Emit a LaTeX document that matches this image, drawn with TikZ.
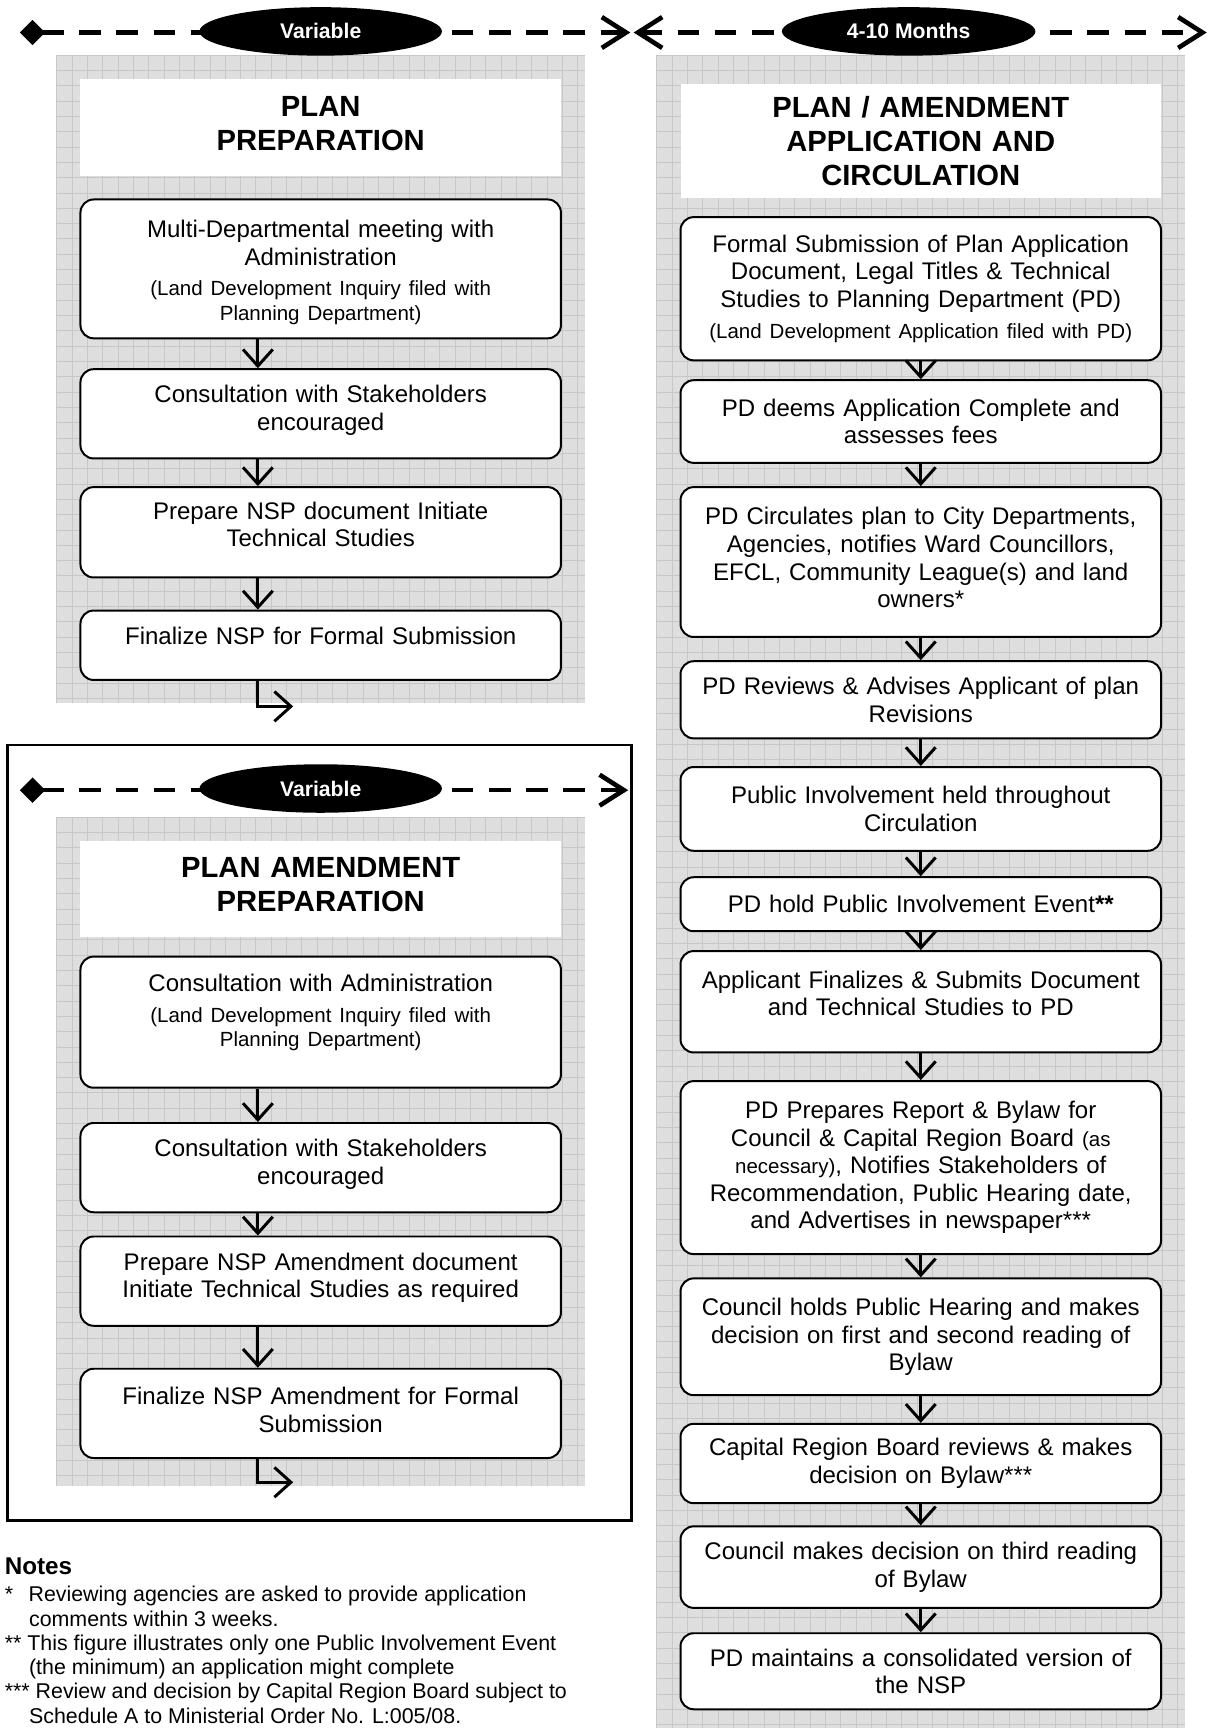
\documentclass[tikz,border=0pt]{standalone}
\usepackage{fontspec}
\setmainfont{Liberation Sans}
\usetikzlibrary{arrows.meta,shapes.geometric}

\newcommand{\lift}[1]{\par\vskip#1\kern0pt}
\newcommand{\aside}[1]{\par\vskip3pt{\fontsize{9.3}{11}\selectfont #1\par}}
\newcommand{\minor}[1]{{\fontsize{9.3}{12.5}\selectfont #1}}

\tikzset{
    panel/.style={fill=black!13},
    paper/.style={draw=black!22, line width=0.4pt, step=6.95pt},
    heading/.style={fill=white, minimum width=218pt, text width=210pt, align=center,
        font=\fontsize{13.25}{15.5}\selectfont\bfseries},
    stepbox/.style={draw, fill=white, rounded corners=6pt, line width=0.9pt,
        minimum width=218pt, text width=210pt, align=center,
        font=\fontsize{10.9}{12.5}\selectfont},
    flow/.style={line width=1.35pt, -{Straight Barb[length=7.5pt, width=13.5pt]}},
    timeline/.style={line width=2.1pt, dash pattern=on 9.8pt off 7.1pt},
    period/.style={ellipse, fill=black, text=white, inner sep=0pt,
        minimum height=22pt, font=\fontsize{9.6}{11}\selectfont\bfseries},
    notes/.style={align=left, inner sep=0pt, font=\fontsize{9.7}{11}\selectfont}
}

\begin{document}
\begin{tikzpicture}[x=0.5pt, y=-0.5pt]
    \useasboundingbox (0,0) rectangle (1097,1568);

    % grid panels
    \fill[panel] (51.5,50) rectangle (531,638);
    \begin{scope}[shift={(51.5,50)}]
        \draw[paper] (0,588) grid (479.5,0);
    \end{scope}
    \fill[panel] (51.5,741.5) rectangle (531,1348);
    \begin{scope}[shift={(51.5,741.5)}]
        \draw[paper] (0,606.5) grid (479.5,0);
    \end{scope}
    \fill[panel] (596,50) rectangle (1075,1568);
    \begin{scope}[shift={(596,50)}]
        \draw[paper] (0,1518) grid (479,0);
    \end{scope}

    % time lines
    \coordinate (ta) at (18,29.5);
    \coordinate (tb) at (572,29.5);
    \coordinate (tc) at (575,29.5);
    \coordinate (td) at (1095,29.5);
    \draw[timeline, {Diamond[length=11.5pt, width=11.5pt]}-{Straight Barb[length=11pt, width=14pt]}] (ta) -- (tb);
    \draw[timeline, {Straight Barb[length=11pt, width=14pt]}-{Straight Barb[length=11pt, width=14pt]}] (tc) -- (td);
    \node[period, minimum width=110pt] (var1) at (291,28.5) {Variable};
    \node[period, minimum width=115pt] (months) at (824.5,28.5) {4-10 Months};

    % plan preparation
    \node[heading, minimum height=44pt] (lt) at (291,116) {PLAN\\PREPARATION\lift{4pt}};
    \node[stepbox, minimum height=63pt] (lp1) at (291,244) {Multi-Departmental meeting with\\Administration\aside{(Land Development Inquiry filed with\\Planning Department)}\lift{-3pt}};
    \node[stepbox, minimum height=40.5pt] (lp2) at (291,375.5) {Consultation with Stakeholders\\encouraged\lift{3pt}};
    \node[stepbox, minimum height=41pt] (lp3) at (291,483) {Prepare NSP document Initiate\\Technical Studies\lift{7pt}};
    \node[stepbox, minimum height=31.5pt] (lp4) at (291,585.5) {Finalize NSP for Formal Submission\lift{8.5pt}};
    \coordinate (lcol) at (234,0);
    \coordinate (lout1) at (266,641);
    \draw[flow] (lp1.south -| lcol) -- (lp2.north -| lcol);
    \draw[flow] (lp2.south -| lcol) -- (lp3.north -| lcol);
    \draw[flow] (lp3.south -| lcol) -- (lp4.north -| lcol);
    \draw[flow] (lp4.south -| lcol) |- (lout1);

    % plan amendment preparation
    \draw[line width=1.35pt] (7,676) rectangle (573,1380);
    \coordinate (te) at (18,717);
    \coordinate (tf) at (570,717);
    \draw[timeline, {Diamond[length=11.5pt, width=11.5pt]}-{Straight Barb[length=11pt, width=14pt]}] (te) -- (tf);
    \node[period, minimum width=110pt] (var2) at (291,715.5) {Variable};
    \node[heading, minimum height=43.5pt] (at) at (291,806.5) {PLAN AMENDMENT\\PREPARATION\lift{3.5pt}};
    \node[stepbox, minimum height=59.5pt] (la1) at (291,927.5) {Consultation with Administration\aside{(Land Development Inquiry filed with\\Planning Department)}\lift{8.5pt}};
    \node[stepbox, minimum height=40.5pt] (la2) at (291,1059.5) {Consultation with Stakeholders\\encouraged\lift{3pt}};
    \node[stepbox, minimum height=40.5pt] (la3) at (291,1162.5) {Prepare NSP Amendment document\\Initiate Technical Studies as required\lift{3pt}};
    \node[stepbox, minimum height=40.5pt] (la4) at (291,1282.5) {Finalize NSP Amendment for Formal\\Submission\lift{3pt}};
    \coordinate (lout2) at (266,1345);
    \draw[flow] (la1.south -| lcol) -- (la2.north -| lcol);
    \draw[flow] (la2.south -| lcol) -- (la3.north -| lcol);
    \draw[flow] (la3.south -| lcol) -- (la4.north -| lcol);
    \draw[flow] (la4.south -| lcol) |- (lout2);

    % application and circulation
    \node[heading, minimum height=52pt] (rt) at (835.5,128) {PLAN / AMENDMENT\\APPLICATION AND\\CIRCULATION};
    \node[stepbox, minimum height=65pt] (r1) at (835.5,262) {Formal Submission of Plan Application\\Document, Legal Titles \& Technical\\Studies to Planning Department (PD)\aside{(Land Development Application filed with PD)}};
    \node[stepbox, minimum height=37.5pt] (r2) at (835.5,382.5) {PD deems Application Complete and\\assesses fees};
    \node[stepbox, minimum height=68pt] (r3) at (835.5,510) {PD Circulates plan to City Departments,\\Agencies, notifies Ward Councillors,\\EFCL, Community League(s) and land\\owners*\lift{4pt}};
    \node[stepbox, minimum height=35pt] (r4) at (835.5,635) {PD Reviews \& Advises Applicant of plan\\Revisions};
    \node[stepbox, minimum height=38pt] (r5) at (835.5,734) {Public Involvement held throughout\\Circulation};
    \node[stepbox, minimum height=24.5pt] (r6) at (835.5,820.5) {PD hold Public Involvement Event\textbf{**}};
    \node[stepbox, minimum height=46pt] (r7) at (835.5,909) {Applicant Finalizes \& Submits Document\\and Technical Studies to PD\lift{7.5pt}};
    \node[stepbox, minimum height=78.5pt] (r8) at (835.5,1059.5) {PD Prepares Report \& Bylaw for\\Council \& Capital Region Board \minor{(as}\\\minor{necessary)}, Notifies Stakeholders of\\Recommendation, Public Hearing date,\\and Advertises in newspaper***};
    \node[stepbox, minimum height=53pt] (r9) at (835.5,1213) {Council holds Public Hearing and makes\\decision on first and second reading of\\Bylaw};
    \node[stepbox, minimum height=36pt] (r10) at (835.5,1328) {Capital Region Board reviews \& makes\\decision on Bylaw***};
    \node[stepbox, minimum height=37pt] (r11) at (835.5,1422) {Council makes decision on third reading\\of Bylaw};
    \node[stepbox, minimum height=34.5pt] (r12) at (835.5,1516.5) {PD maintains a consolidated version of\\the NSP};
    \draw[flow] (r1) -- (r2);
    \draw[flow] (r2) -- (r3);
    \draw[flow] (r3) -- (r4);
    \draw[flow] (r4) -- (r5);
    \draw[flow] (r5) -- (r6);
    \draw[flow] (r6) -- (r7);
    \draw[flow] (r7) -- (r8);
    \draw[flow] (r8) -- (r9);
    \draw[flow] (r9) -- (r10);
    \draw[flow] (r10) -- (r11);
    \draw[flow] (r11) -- (r12);

    % notes
    \node[notes, anchor=north west] (notes) at (4,1413) {{\fontsize{11}{12}\selectfont\bfseries Notes}\\[1.5pt]
        {}*\hspace{7pt}Reviewing agencies are asked to provide application\\
        \hspace*{11pt}comments within 3 weeks.\\
        {}** This figure illustrates only one Public Involvement Event\\
        \hspace*{11pt}(the minimum) an application might complete\\
        {}*** Review and decision by Capital Region Board subject to\\
        \hspace*{11pt}Schedule A to Ministerial Order No. L:005/08.};
\end{tikzpicture}
\end{document}
